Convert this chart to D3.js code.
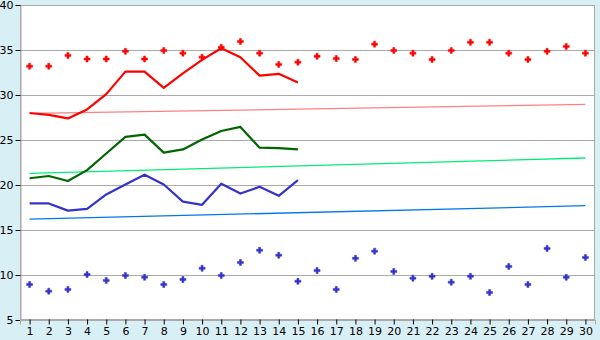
<!DOCTYPE html>
<html>
<head>
<meta charset="utf-8">
<script src="https://cdn.jsdelivr.net/npm/d3@7"></script>
<style>
  body { margin: 0; background: #d9eff6; }
  svg { display: block; }
</style>
</head>
<body>
<div id="chart"></div>
<script>
const categories = d3.range(1, 31).map(String);
const yTicks = [5, 10, 15, 20, 25, 30, 35, 40];

// scatter series (30 points each)
const redPoints = [33.2, 33.2, 34.4, 34.0, 34.0, 34.85, 34.0, 34.95, 34.65, 34.2,
  35.3, 35.95, 34.65, 33.4, 33.65, 34.3, 34.05, 33.95, 35.65, 34.95,
  34.65, 33.95, 34.95, 35.85, 35.85, 34.65, 33.95, 34.85, 35.4, 34.65];
const bluePoints = [8.95, 8.2, 8.4, 10.05, 9.4, 9.95, 9.75, 8.95, 9.5, 10.75,
  9.95, 11.4, 12.75, 12.2, 9.3, 10.5, 8.4, 11.85, 12.65, 10.4,
  9.65, 9.85, 9.2, 9.85, 8.05, 10.95, 8.95, 12.95, 9.75, 11.95];

// line series (first 15 categories)
const redLine = [28.0, 27.8, 27.4, 28.4, 30.1, 32.6, 32.6, 30.8, 32.4, 33.9,
  35.2, 34.2, 32.15, 32.35, 31.4];
const greenLine = [20.75, 21.0, 20.45, 21.65, 23.5, 25.35, 25.6, 23.6, 23.95, 25.05,
  26.0, 26.45, 24.15, 24.1, 23.95];
const blueLine = [17.95, 17.95, 17.15, 17.35, 18.95, 20.05, 21.15, 20.05, 18.15, 17.8,
  20.15, 19.05, 19.8, 18.8, 20.55];

// trend lines: value at first and last category
const redTrend = [27.95, 28.95];
const greenTrend = [21.3, 23.0];
const blueTrend = [16.2, 17.7];

const width = 600, height = 340;
const margin = { top: 5, right: 5, bottom: 20, left: 20 };

const svg = d3.select('#chart')
  .append('svg')
  .attr('width', width)
  .attr('height', height);

svg.append('rect')
  .attr('x', margin.left)
  .attr('y', margin.top)
  .attr('width', width - margin.left - margin.right)
  .attr('height', height - margin.top - margin.bottom)
  .attr('fill', '#fff');

const x = d3.scalePoint()
  .domain(categories)
  .range([margin.left, width - margin.right])
  .padding(0.5);

const y = d3.scaleLinear()
  .domain([5, 40])
  .range([height - margin.bottom, margin.top]);

// gridlines
svg.append('g')
  .selectAll('line')
  .data(yTicks)
  .enter()
  .append('line')
  .attr('x1', margin.left)
  .attr('x2', width - margin.right)
  .attr('y1', d => Math.round(y(d)) + 0.5)
  .attr('y2', d => Math.round(y(d)) + 0.5)
  .attr('stroke', '#aaa');

// plot border
svg.append('rect')
  .attr('x', margin.left + 0.5)
  .attr('y', margin.top + 0.5)
  .attr('width', width - margin.left - margin.right - 1)
  .attr('height', height - margin.top - margin.bottom - 1)
  .attr('fill', 'none')
  .attr('stroke', '#aaa');

// axes
const yAxis = svg.append('g')
  .attr('transform', `translate(${margin.left + 0.5},0)`)
  .call(d3.axisLeft(y).tickValues(yTicks).tickSize(5).tickPadding(2));
const xAxis = svg.append('g')
  .attr('transform', `translate(0,${height - margin.bottom - 0.5})`)
  .call(d3.axisBottom(x).tickSize(5).tickPadding(3));

[xAxis, yAxis].forEach(ax => {
  ax.select('.domain').attr('stroke', '#aaa');
  ax.selectAll('.tick line').attr('stroke', '#000');
  ax.selectAll('text')
    .style('font-family', 'Verdana, "DejaVu Sans", sans-serif')
    .style('font-size', '11px')
    .attr('fill', '#000');
});

// trend lines
const trends = [
  { vals: redTrend, color: '#ff8080' },
  { vals: greenTrend, color: '#00ee77' },
  { vals: blueTrend, color: '#0077ee' }
];
trends.forEach(t => {
  svg.append('line')
    .attr('x1', x(categories[0]))
    .attr('x2', x(categories[categories.length - 1]))
    .attr('y1', y(t.vals[0]))
    .attr('y2', y(t.vals[1]))
    .attr('stroke', t.color)
    .attr('stroke-width', 1.3);
});

// line series
const line = d3.line()
  .x((d, i) => x(categories[i]))
  .y(d => y(d));
[[redLine, '#ff0000'], [greenLine, '#006600'], [blueLine, '#3333cc']].forEach(([data, color]) => {
  svg.append('path')
    .datum(data)
    .attr('fill', 'none')
    .attr('stroke', color)
    .attr('stroke-width', 2.2)
    .attr('stroke-linejoin', 'round')
    .attr('d', line);
});

// scatter points
const cross = d3.symbol().type(d3.symbolCross).size(20);
[[redPoints, '#ff0000'], [bluePoints, '#3333cc']].forEach(([data, color]) => {
  svg.append('g')
    .selectAll('path')
    .data(data)
    .enter()
    .append('path')
    .attr('transform', (d, i) => `translate(${x(categories[i])},${y(d)})`)
    .attr('d', cross)
    .attr('fill', color)
    .attr('stroke', color)
    .attr('stroke-width', 0.5)
    .attr('stroke-linejoin', 'round');
});
</script>
</body>
</html>
